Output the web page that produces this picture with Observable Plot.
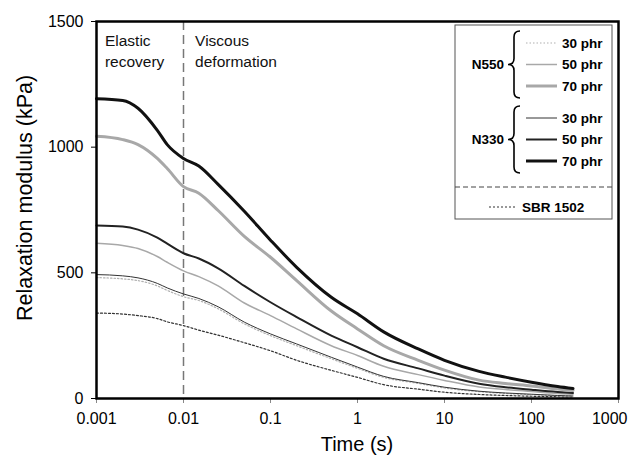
<!DOCTYPE html>
<html>
<head>
<meta charset="utf-8">
<script src="https://cdn.jsdelivr.net/npm/d3@7"></script>
<script src="https://cdn.jsdelivr.net/npm/@observablehq/plot@0.6"></script>
<style>
  html, body { margin: 0; padding: 0; background: #fff; }
  svg { font-family: "Liberation Sans", Arial, sans-serif; }
</style>
</head>
<body>
<div id="chart"></div>
<script>
// ---- data ----
const times = [0.001, 0.002, 0.003, 0.005, 0.0065, 0.01, 0.015, 0.025, 0.05, 0.1, 0.2, 0.5, 1, 2, 5, 10, 25, 50, 100, 200, 300];
const n550_30 = [481, 476, 469, 448, 430, 405, 390, 357, 297, 250, 210, 158, 120, 84, 60, 42, 27, 20, 15, 11, 9];
const n550_50 = [618, 609, 597, 565, 542, 508, 485, 448, 380, 330, 277, 210, 171, 128, 95, 72, 46, 36, 28, 20, 17];
const n550_70 = [1043, 1030, 1010, 955, 915, 843, 817, 748, 645, 562, 469, 348, 277, 210, 152, 113, 73, 60, 50, 38, 32];
const n330_30 = [493, 488, 480, 458, 440, 416, 398, 365, 304, 257, 217, 164, 125, 88, 63, 45, 29, 22, 17, 12, 10];
const n330_50 = [688, 684, 672, 640, 616, 578, 557, 518, 448, 383, 324, 250, 204, 158, 120, 91, 59, 45, 35, 26, 22];
const n330_70 = [1193, 1186, 1155, 1067, 1010, 955, 925, 852, 745, 630, 522, 403, 337, 265, 197, 152, 108, 85, 65, 48, 40];
const sbr1502 = [340, 336, 330, 318, 305, 290, 272, 252, 222, 190, 152, 112, 84, 55, 37, 25, 16, 12, 9, 7, 6];

const xTicks = [0.001, 0.01, 0.1, 1, 10, 100, 1000];
const yTicks = [0, 500, 1000, 1500];
const fillers = ["N550", "N330"];
const loadings = ["30 phr", "50 phr", "70 phr"];

// ---- styles per series ----
const styles = {
  "N550 30 phr": {stroke: "#b0b0b0", strokeWidth: 1.2, dash: "1.5,2"},
  "N550 50 phr": {stroke: "#a8a8a8", strokeWidth: 1.5, dash: null},
  "N550 70 phr": {stroke: "#a8a8a8", strokeWidth: 3, dash: null},
  "N330 30 phr": {stroke: "#333", strokeWidth: 1, dash: null},
  "N330 50 phr": {stroke: "#222", strokeWidth: 2, dash: null},
  "N330 70 phr": {stroke: "#111", strokeWidth: 3, dash: null},
  "SBR 1502":    {stroke: "#333", strokeWidth: 1.2, dash: "2,2"}
};

const seriesValues = {
  "N550 30 phr": n550_30, "N550 50 phr": n550_50, "N550 70 phr": n550_70,
  "N330 30 phr": n330_30, "N330 50 phr": n330_50, "N330 70 phr": n330_70,
  "SBR 1502": sbr1502
};
const drawOrder = ["SBR 1502", "N550 30 phr", "N330 30 phr", "N550 50 phr", "N330 50 phr", "N550 70 phr", "N330 70 phr"];

const lineMarks = drawOrder.map(name => {
  const vals = seriesValues[name];
  const rows = times.map((t, i) => ({t, v: vals[i]}));
  const s = styles[name];
  return Plot.line(rows, {
    x: "t", y: "v", curve: "monotone-x",
    stroke: s.stroke, strokeWidth: s.strokeWidth,
    strokeDasharray: s.dash || undefined
  });
});

const W = 632, H = 463;
const chart = Plot.plot({
  width: W, height: H,
  marginLeft: 96, marginRight: 14, marginTop: 21, marginBottom: 65,
  style: {fontFamily: "'Liberation Sans', Arial, sans-serif", fontSize: "16px", color: "#000", background: "#fff"},
  x: {type: "log", domain: [0.001, 1000]},
  y: {domain: [0, 1500]},
  marks: [
    Plot.ruleX([0.01], {stroke: "#777", strokeWidth: 1.5, strokeDasharray: "9,5"}),
    ...lineMarks,
    Plot.text(["Elastic\nrecovery"], {x: 0.00125, y: 1462, text: d => d, textAnchor: "start", lineAnchor: "top", fontSize: 15.5, lineHeight: 1.35, fill: "#111"}),
    Plot.text(["Viscous\ndeformation"], {x: 0.0136, y: 1462, text: d => d, textAnchor: "start", lineAnchor: "top", fontSize: 15.5, lineHeight: 1.35, fill: "#111"}),
    Plot.axisX({ticks: xTicks, tickFormat: d => String(d), tickSize: 5, tickPadding: 9, stroke: "#888", fontSize: 16, label: null}),
    Plot.axisY({ticks: yTicks, tickFormat: d => String(d), tickSize: 5, tickPadding: 8, fontSize: 16, label: null}),
    Plot.frame({stroke: "#000", strokeWidth: 2.5})
  ]
});
document.getElementById("chart").appendChild(chart);

const svg = d3.select(chart);
// keep the last x tick label inside the picture (end-anchored near the right edge)
svg.selectAll("g[aria-label='x-axis tick label'] text")
  .filter(function() { return this.textContent === "1000"; })
  .attr("text-anchor", "end").attr("dx", 9);

// axis titles
svg.append("text").attr("x", 357).attr("y", 451).attr("text-anchor", "middle")
  .attr("font-size", 20).attr("fill", "#000").text("Time (s)");
svg.append("text").attr("transform", "translate(32,198) rotate(-90)").attr("text-anchor", "middle")
  .attr("font-size", 21.5).attr("fill", "#000").text("Relaxation modulus (kPa)");

// legend (inside the plot area, top right)
const lg = svg.append("g").attr("font-family", "'Liberation Sans', Arial, sans-serif").attr("text-anchor", "start");
lg.append("rect").attr("x", 455).attr("y", 25).attr("width", 157).attr("height", 194)
  .attr("fill", "#fff").attr("stroke", "#555").attr("stroke-width", 1);

function brace(x, top, bottom, w) {
  const mid = (top + bottom) / 2, r = 6;
  return `M${x + w},${top} Q${x},${top} ${x},${top + r} L${x},${mid - r} Q${x},${mid} ${x - w},${mid} Q${x},${mid} ${x},${mid + r} L${x},${bottom - r} Q${x},${bottom} ${x + w},${bottom}`;
}
const groupTops = [31, 106];
const rowGap = 21.5;
fillers.forEach((f, gi) => {
  const top = groupTops[gi], bottom = top + 67;
  const mid = (top + bottom) / 2;
  lg.append("path").attr("d", brace(514, top, bottom, 6)).attr("fill", "none").attr("stroke", "#000").attr("stroke-width", 1.6);
  lg.append("text").attr("x", 504).attr("y", mid).attr("dy", "0.35em").attr("text-anchor", "end")
    .attr("font-weight", "bold").attr("font-size", 13.5).text(f);
  loadings.forEach((l, li) => {
    const name = `${f} ${l}`;
    const s = styles[name];
    const y = mid + (li - 1) * rowGap;
    lg.append("line").attr("x1", 526).attr("x2", 557).attr("y1", y).attr("y2", y)
      .attr("stroke", s.stroke).attr("stroke-width", s.strokeWidth)
      .attr("stroke-dasharray", s.dash);
    lg.append("text").attr("x", 562).attr("y", y).attr("dy", "0.35em").attr("text-anchor", "start")
      .attr("font-weight", "bold").attr("font-size", 13.5).text(l);
  });
});
lg.append("line").attr("x1", 455).attr("x2", 612).attr("y1", 187).attr("y2", 187)
  .attr("stroke", "#444").attr("stroke-width", 1).attr("stroke-dasharray", "5,3");
{
  const s = styles["SBR 1502"];
  lg.append("line").attr("x1", 489).attr("x2", 517).attr("y1", 207).attr("y2", 207)
    .attr("stroke", s.stroke).attr("stroke-width", s.strokeWidth).attr("stroke-dasharray", s.dash);
  lg.append("text").attr("x", 522).attr("y", 207).attr("dy", "0.35em").attr("text-anchor", "start")
    .attr("font-weight", "bold").attr("font-size", 13.5).text("SBR 1502");
}
</script>
</body>
</html>
